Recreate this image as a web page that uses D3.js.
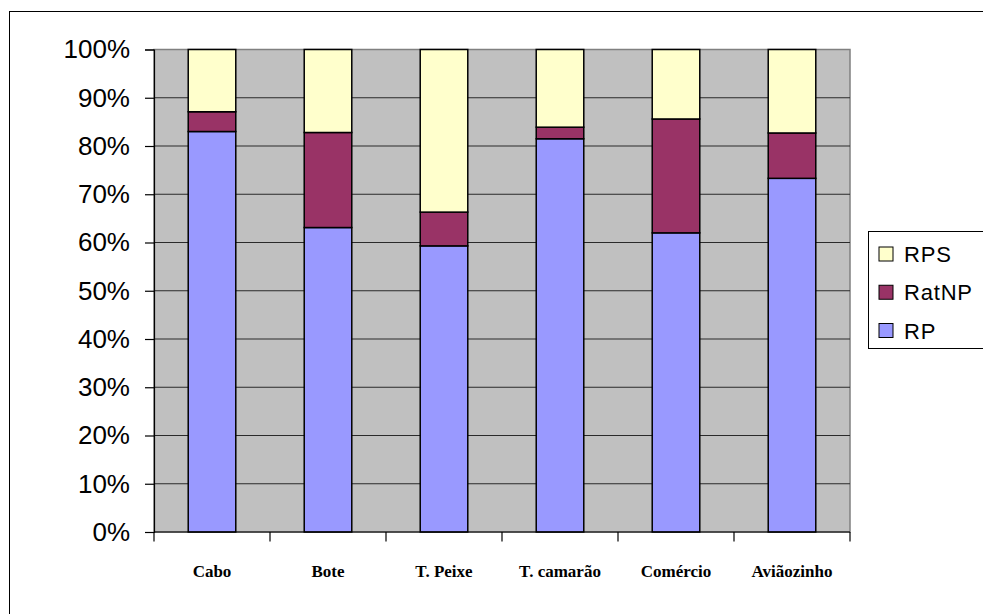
<!DOCTYPE html>
<html>
<head>
<meta charset="utf-8">
<script src="https://cdn.jsdelivr.net/npm/d3@7"></script>
<style>
  html, body { margin: 0; padding: 0; background: #fff; }
  svg { display: block; }
</style>
</head>
<body>
<svg id="chart" width="983" height="614"></svg>
<script>
// Share of each response type per location (percent of total)
const categories = ["Cabo", "Bote", "T. Peixe", "T. camarão", "Comércio", "Aviãozinho"];
const seriesNames = ["RP", "RatNP", "RPS"];
const rpValues    = [83.0, 63.1, 59.3, 81.5, 62.0, 73.3];
const ratnpValues = [4.1, 19.7, 7.0, 2.4, 23.6, 9.4];
const rpsValues   = [12.9, 17.2, 33.7, 16.1, 14.4, 17.3];
const yTickValues = [0, 10, 20, 30, 40, 50, 60, 70, 80, 90, 100];
const seriesColors = { RP: "#9999FF", RatNP: "#993366", RPS: "#FFFFCC" };

const rows = categories.map((c, i) => ({
  category: c, RP: rpValues[i], RatNP: ratnpValues[i], RPS: rpsValues[i]
}));

const svg = d3.select("#chart");
const plot = { left: 154, right: 850, top: 49.5, bottom: 532 };

// Outer chart frame
svg.append("rect")
  .attr("x", 9.5).attr("y", 11.5)
  .attr("width", 1000).attr("height", 700)
  .attr("fill", "#fff").attr("stroke", "#000").attr("stroke-width", 1);

const x = d3.scaleBand()
  .domain(categories)
  .range([plot.left, plot.right])
  .paddingInner(0.59)
  .paddingOuter(0.295);

const y = d3.scaleLinear().domain([0, 100]).range([plot.bottom, plot.top]);

// Plot background
svg.append("rect")
  .attr("x", plot.left).attr("y", plot.top)
  .attr("width", plot.right - plot.left).attr("height", plot.bottom - plot.top)
  .attr("fill", "#C0C0C0").attr("stroke", "#808080").attr("stroke-width", 1.5);

// Horizontal gridlines
svg.append("g")
  .selectAll("line")
  .data(yTickValues.filter(v => v > 0 && v < 100))
  .join("line")
  .attr("x1", plot.left).attr("x2", plot.right)
  .attr("y1", d => y(d)).attr("y2", d => y(d))
  .attr("stroke", "#2a2a2a").attr("stroke-width", 1.2);

// Stacked bars
const stack = d3.stack().keys(seriesNames);
const layers = stack(rows);

svg.append("g")
  .selectAll("g")
  .data(layers)
  .join("g")
  .attr("fill", d => seriesColors[d.key])
  .selectAll("rect")
  .data(d => d)
  .join("rect")
  .attr("x", d => x(d.data.category))
  .attr("width", x.bandwidth())
  .attr("y", d => y(d[1]))
  .attr("height", d => y(d[0]) - y(d[1]))
  .attr("stroke", "#000")
  .attr("stroke-width", 1.5);

// Y axis
const yAxis = d3.axisLeft(y)
  .tickValues(yTickValues)
  .tickFormat(d => d + "%")
  .tickSize(9)
  .tickPadding(15);

const yG = svg.append("g")
  .attr("transform", `translate(${plot.left},0)`)
  .call(yAxis);
yG.select(".domain").attr("stroke", "#000").attr("stroke-width", 1.2);
yG.selectAll(".tick line").attr("stroke", "#000").attr("stroke-width", 1.2);
yG.selectAll(".tick text")
  .attr("font-family", "Liberation Sans, Arial, sans-serif")
  .attr("font-size", 26)
  .attr("fill", "#000");

// X axis: baseline, boundary ticks and category labels
const xAxisG = svg.append("g");
xAxisG.append("line")
  .attr("x1", plot.left).attr("x2", plot.right)
  .attr("y1", plot.bottom).attr("y2", plot.bottom)
  .attr("stroke", "#000").attr("stroke-width", 1.2);

const boundaries = d3.range(categories.length + 1).map(i => plot.left + i * x.step());
xAxisG.selectAll("line.bnd")
  .data(boundaries)
  .join("line")
  .attr("class", "bnd")
  .attr("x1", d => d).attr("x2", d => d)
  .attr("y1", plot.bottom).attr("y2", plot.bottom + 9.5)
  .attr("stroke", "#000").attr("stroke-width", 1.2);

xAxisG.selectAll("text")
  .data(categories)
  .join("text")
  .attr("x", d => x(d) + x.bandwidth() / 2)
  .attr("y", 577)
  .attr("text-anchor", "middle")
  .attr("font-family", "Liberation Serif, Times New Roman, serif")
  .attr("font-weight", "bold")
  .attr("font-size", 17)
  .attr("fill", "#000")
  .text(d => d);

// Legend
const legend = svg.append("g");
legend.append("rect")
  .attr("x", 868.5).attr("y", 231.5)
  .attr("width", 200).attr("height", 117)
  .attr("fill", "#fff").attr("stroke", "#000").attr("stroke-width", 1);

const legendOrder = ["RPS", "RatNP", "RP"];
const legendRow = d3.scalePoint().domain(legendOrder).range([254, 330.5]);

const items = legend.selectAll("g.item")
  .data(legendOrder)
  .join("g")
  .attr("class", "item")
  .attr("transform", d => `translate(0,${legendRow(d)})`);

items.append("rect")
  .attr("x", 879).attr("y", -7)
  .attr("width", 14).attr("height", 14)
  .attr("fill", d => seriesColors[d])
  .attr("stroke", "#000").attr("stroke-width", 1);

items.append("text")
  .attr("x", 904).attr("y", 8)
  .attr("font-family", "Liberation Sans, Arial, sans-serif")
  .attr("font-size", 22)
  .attr("letter-spacing", 0.8)
  .attr("fill", "#000")
  .text(d => d);
</script>
</body>
</html>
